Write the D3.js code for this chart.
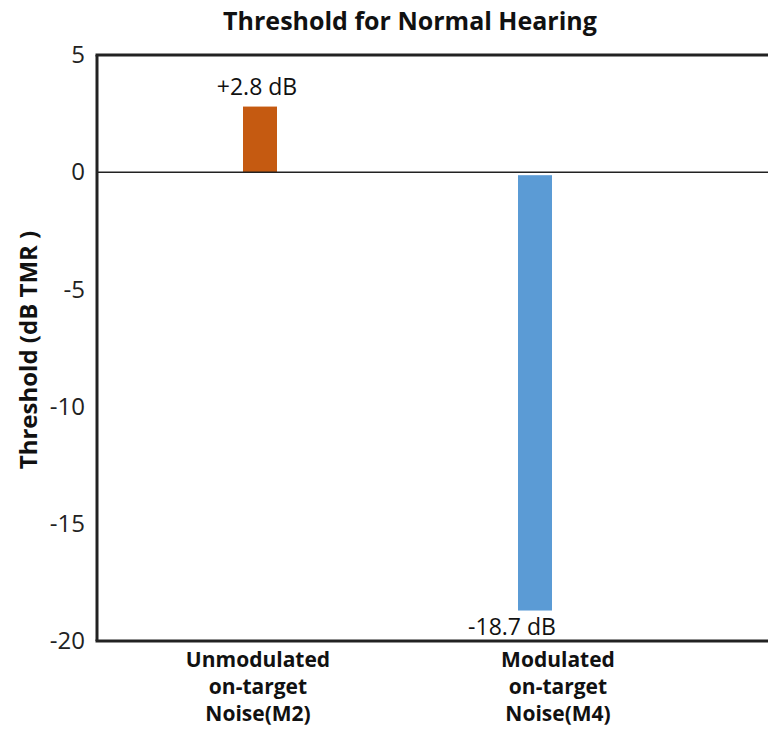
<!DOCTYPE html>
<html>
<head>
<meta charset="utf-8">
<script src="https://cdn.jsdelivr.net/npm/d3@7/dist/d3.min.js"></script>
<style>
  html, body { margin: 0; padding: 0; background: #fff; }
  svg { display: block; font-family: "Open Sans", "Noto Sans", sans-serif; }
</style>
</head>
<body>
<script>
// Threshold values (dB TMR) for the two noise conditions
const categories = [
  ["Unmodulated", "on-target", "Noise(M2)"],
  ["Modulated", "on-target", "Noise(M4)"]
];
const categoryKeys = ["M2", "M4"];
const thresholds = [2.8, -18.7];
const valueLabels = ["+2.8 dB", "-18.7 dB"];
const barColors = ["#C55A11", "#5B9BD5"];
const yTicks = [5, 0, -5, -10, -15, -20];

const W = 768, H = 730;
const plot = { left: 97, right: 768, top: 55, bottom: 641 };
const barWidth = 34;

const svg = d3.select("body").append("svg")
  .attr("width", W).attr("height", H);

const y = d3.scaleLinear().domain([5, -20]).range([plot.top, plot.bottom]);

// bar centres and category label centres
const xBar = d3.scalePoint().domain(categoryKeys).range([260, 535]);
const xCat = d3.scalePoint().domain(categoryKeys).range([258, 558]);

// title
svg.append("text")
  .attr("x", 410).attr("y", 30)
  .attr("text-anchor", "middle")
  .attr("font-size", 25).attr("font-weight", "bold").attr("fill", "#111")
  .text("Threshold for Normal Hearing");

// y axis with tick labels only
const yAxis = d3.axisLeft(y).tickValues(yTicks).tickSize(0).tickPadding(12)
  .tickFormat(d => d3.format("d")(d).replace("−", "-"));
const gy = svg.append("g").attr("transform", `translate(${plot.left},0)`).call(yAxis);
gy.select(".domain").remove();
gy.selectAll("text").attr("font-size", 24).attr("fill", "#222")
  .attr("font-family", "'Open Sans', sans-serif");

// y axis title
svg.append("text")
  .attr("transform", `translate(37,350) rotate(-90)`)
  .attr("text-anchor", "middle")
  .attr("font-size", 24).attr("font-weight", "bold").attr("fill", "#111")
  .text("Threshold (dB TMR )");

// bars
svg.selectAll("rect.bar").data(thresholds).join("rect")
  .attr("class", "bar")
  .attr("x", (d, i) => xBar(categoryKeys[i]) - barWidth / 2)
  .attr("width", barWidth)
  .attr("y", d => d >= 0 ? y(d) : y(0) + 3)
  .attr("height", d => d >= 0 ? y(0) - y(d) : y(d) - y(0) - 3)
  .attr("fill", (d, i) => barColors[i]);

// value labels at bar ends
svg.selectAll("text.val").data(thresholds).join("text")
  .attr("class", "val")
  .attr("x", (d, i) => xBar(categoryKeys[i]) + (d >= 0 ? -3 : -23))
  .attr("y", d => d >= 0 ? y(d) - 12 : y(d) + 24)
  .attr("text-anchor", "middle")
  .attr("font-size", 23).attr("fill", "#111")
  .text((d, i) => valueLabels[i]);

// frame: left, top, bottom
const frame = svg.append("g").attr("stroke", "#222").attr("stroke-width", 3);
frame.append("line").attr("x1", plot.left).attr("x2", plot.left).attr("y1", y(5)).attr("y2", y(-20));
frame.append("line").attr("x1", plot.left - 1.5).attr("x2", plot.right).attr("y1", y(5)).attr("y2", y(5));
frame.append("line").attr("x1", plot.left - 1.5).attr("x2", plot.right).attr("y1", y(-20)).attr("y2", y(-20));

// zero line
svg.append("line")
  .attr("x1", plot.left).attr("x2", plot.right)
  .attr("y1", y(0)).attr("y2", y(0))
  .attr("stroke", "#222").attr("stroke-width", 1.5);

// category labels
const cat = svg.selectAll("text.cat").data(categories).join("text")
  .attr("class", "cat")
  .attr("x", (d, i) => xCat(categoryKeys[i]))
  .attr("y", 667)
  .attr("text-anchor", "middle")
  .attr("font-size", 21).attr("font-weight", "bold").attr("fill", "#111");
cat.selectAll("tspan").data(d => d).join("tspan")
  .attr("x", function () { return d3.select(this.parentNode).attr("x"); })
  .attr("dy", (d, i) => i === 0 ? 0 : 27)
  .text(d => d);
</script>
</body>
</html>
